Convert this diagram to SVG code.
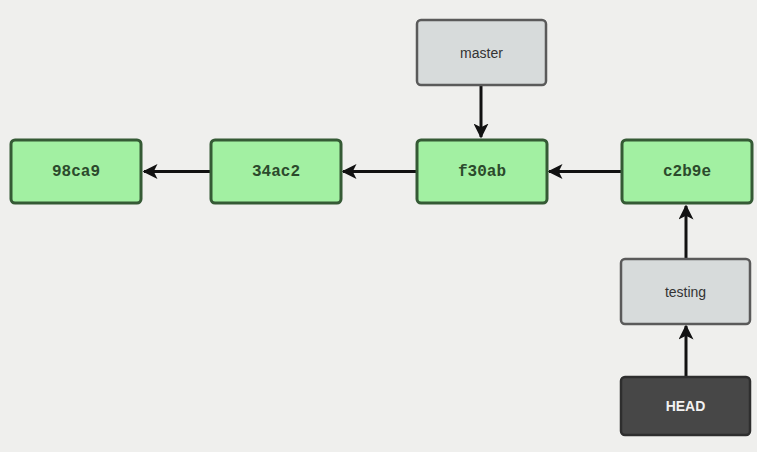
<svg xmlns="http://www.w3.org/2000/svg" width="757" height="452" viewBox="0 0 757 452">
  <style>
    .commit rect { fill: #a2f0a2; stroke: #355a35; stroke-width: 3; }
    .commit text { font-family: "Liberation Mono", "DejaVu Sans Mono", monospace; font-weight: bold; font-size: 16px; fill: #2c4a2c; text-anchor: middle; dominant-baseline: central; }
    .branch rect { fill: #d7dbdb; stroke: #5a5a5a; stroke-width: 2.5; }
    .branch text { font-family: "Liberation Sans", Arial, sans-serif; font-size: 14px; fill: #333; text-anchor: middle; dominant-baseline: central; }
    .head rect { fill: #474747; stroke: #2e2e2e; stroke-width: 2.5; }
    .head text { font-family: "Liberation Sans", Arial, sans-serif; font-weight: bold; font-size: 14px; fill: #f2f2f2; text-anchor: middle; dominant-baseline: central; }
    .edge { stroke: #111; stroke-width: 3; fill: none; marker-end: url(#arrow); }
  </style>
  <defs>
    <marker id="arrow" viewBox="0 0 10 10" refX="9" refY="5" markerWidth="5" markerHeight="5" markerUnits="strokeWidth" orient="auto">
      <path d="M0,0 L10,5 L0,10 L2.5,5 Z" fill="#111"/>
    </marker>
  </defs>

  <rect x="0" y="0" width="757" height="452" fill="#efefed"/>

  <g id="connectors">
    <line class="edge" x1="211" y1="171.5" x2="144" y2="171.5"/>
    <line class="edge" x1="417" y1="171.5" x2="343" y2="171.5"/>
    <line class="edge" x1="622" y1="171.5" x2="549" y2="171.5"/>
    <line class="edge" x1="481" y1="85" x2="481" y2="137"/>
    <line class="edge" x1="686" y1="259" x2="686" y2="206"/>
    <line class="edge" x1="686" y1="377" x2="686" y2="326"/>
  </g>

  <g id="commit-98ca9" class="commit">
    <rect x="11" y="140" width="130" height="63" rx="4"/>
    <text x="76" y="171.5">98ca9</text>
  </g>
  <g id="commit-34ac2" class="commit">
    <rect x="211" y="140" width="130" height="63" rx="4"/>
    <text x="276" y="171.5">34ac2</text>
  </g>
  <g id="commit-f30ab" class="commit">
    <rect x="417" y="140" width="130" height="63" rx="4"/>
    <text x="482" y="171.5">f30ab</text>
  </g>
  <g id="commit-c2b9e" class="commit">
    <rect x="622" y="140" width="130" height="63" rx="4"/>
    <text x="687" y="171.5">c2b9e</text>
  </g>

  <g id="branch-master" class="branch">
    <rect x="417" y="20" width="129" height="65" rx="4"/>
    <text x="481.5" y="52.5">master</text>
  </g>
  <g id="branch-testing" class="branch">
    <rect x="621" y="259" width="129" height="65" rx="4"/>
    <text x="685.5" y="291.5">testing</text>
  </g>
  <g id="head" class="head">
    <rect x="621" y="377" width="129" height="58" rx="4"/>
    <text x="685.5" y="406">HEAD</text>
  </g>
</svg>
